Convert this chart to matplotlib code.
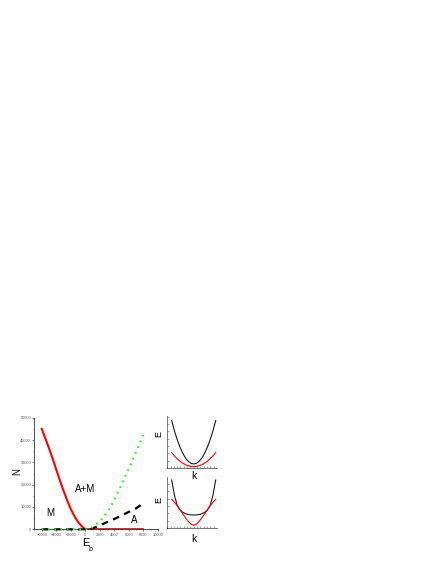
import matplotlib
matplotlib.use("Agg")
import matplotlib.pyplot as plt
from matplotlib.ticker import MultipleLocator, NullFormatter

plt.rcParams['font.family'] = ['Liberation Sans', 'DejaVu Sans']

# main panel: N versus E_b
e_m = [-6000, -5500, -5000, -4500, -4000, -3500, -3000, -2500, -2000, -1500, -1000, -500, 0, 8000]
n_m = [45000, 40700, 36300, 31700, 26800, 21900, 17300, 13000, 9100, 5900, 3300, 1400, 0, 0]

e_a = [-6000, 700, 1500, 2000, 3000, 4000, 5000, 6000, 7000, 8000]
n_a = [0, 0, 1100, 1800, 3200, 4600, 6200, 7800, 9400, 11600]

e_am = [-6000, 500, 800, 1200, 1600, 2000, 2500, 3000, 3500, 4000, 4500,
        5000, 5500, 6000, 6500, 7000, 7500, 8000]
n_am = [0, 0, 500, 1400, 2500, 3600, 5500, 7700, 10000, 13200, 16600,
        20100, 23700, 27200, 30800, 34600, 38400, 42300]

# insets: dispersion E(k)
k_vals = [-1, -0.875, -0.75, -0.625, -0.5, -0.375, -0.25, -0.125, 0,
          0.125, 0.25, 0.375, 0.5, 0.625, 0.75, 0.875, 1]
top_black = [47.7, 37.5, 28.7, 21.3, 15.2, 10.4, 7.0, 5.0, 4.3,
             5.0, 7.0, 10.4, 15.2, 21.3, 28.7, 37.5, 47.7]
top_red = [15.7, 12.4, 9.6, 7.1, 5.2, 3.6, 2.6, 1.9, 1.7,
           1.9, 2.6, 3.6, 5.2, 7.1, 9.6, 12.4, 15.7]
bot_black = [48.3, 33.0, 23.0, 18.4, 16.0, 14.6, 13.8, 13.4, 13.3,
             13.4, 13.8, 14.6, 16.0, 18.4, 23.0, 33.0, 48.3]
bot_red = [29.0, 26.0, 22.6, 18.6, 14.5, 10.6, 7.0, 4.2, 3.0,
           4.2, 7.0, 10.6, 14.5, 18.6, 22.6, 26.0, 29.0]

fig = plt.figure(figsize=(4.36, 5.64), dpi=100)

ax = fig.add_axes([0.0791, 0.0615, 0.2828, 0.1979])
ax.plot(e_m[:-1], n_m[:-1], color='red', lw=1.5, zorder=3, clip_on=False)
ax.plot(e_m[-2:], n_m[-2:], color='#a01818', lw=1.2, zorder=3, clip_on=False)
ax.plot(e_a, n_a, color='black', lw=1.6, dashes=(3, 2.5), zorder=4, clip_on=False)
ax.plot(e_am, n_am, color='#22ee22', lw=1.5, dashes=(0.8, 2.2), zorder=5, clip_on=False)

ax.set_xlim(-7000, 10000)
ax.set_ylim(0, 50000)
ax.xaxis.set_minor_locator(MultipleLocator(1000))
ax.yaxis.set_major_locator(MultipleLocator(10000))
ax.yaxis.set_minor_locator(MultipleLocator(5000))
ax.set_xticks(range(-6000, 10001, 2000))
ax.tick_params(which='major', length=1.5, width=0.5, pad=1, labelsize=2.8,
               labelcolor='#555555', color='#444444')
ax.tick_params(which='minor', length=1, width=0.4, color='#444444')
for s in ['top', 'right']:
    ax.spines[s].set_visible(False)
for s in ['left', 'bottom']:
    ax.spines[s].set_linewidth(0.6)
    ax.spines[s].set_color('#333333')
ax.patch.set_alpha(0)

ax.text(-4870, 7200, 'M', fontsize=7, ha='center', va='center')
ax.text(0, 17900, 'A+M', fontsize=7, ha='center', va='center')
ax.text(6800, 4300, 'A', fontsize=7, ha='center', va='center')

fig.text(0.0401, 0.1636, 'N', fontsize=7, rotation=90, ha='center', va='center')
fig.text(0.197, 0.0372, 'E', fontsize=8, ha='center', va='center')
fig.text(0.2075, 0.0265, 'b', fontsize=5, ha='center', va='center')

# insets
inset_pos = [[0.3823, 0.1697, 0.1147, 0.0927], [0.3823, 0.0633, 0.1147, 0.0915]]
inset_data = [(top_black, top_red, 52.3), (bot_black, bot_red, 51.6)]
for pos, (blk, rd, ytop) in zip(inset_pos, inset_data):
    ins = fig.add_axes(pos)
    ins.plot(k_vals, blk, color='#1a1a1a', lw=0.8)
    ins.plot(k_vals, rd, color='red', lw=0.8)
    ins.set_xlim(-1.227, 1.045)
    ins.set_ylim(0, ytop)
    ins.xaxis.set_major_locator(MultipleLocator(0.15))
    ins.yaxis.set_major_locator(MultipleLocator(7.4))
    ins.xaxis.set_major_formatter(NullFormatter())
    ins.yaxis.set_major_formatter(NullFormatter())
    ins.tick_params(direction='in', length=1.2, width=0.4, color='#555555')
    for s in ['top', 'right']:
        ins.spines[s].set_visible(False)
    for s in ['left', 'bottom']:
        ins.spines[s].set_linewidth(0.5)
        ins.spines[s].set_color('#444444')
    ins.patch.set_alpha(0)

fig.text(0.3631, 0.2305, 'E', fontsize=6.5, rotation=90, ha='center', va='center')
fig.text(0.3631, 0.1135, 'E', fontsize=6.5, rotation=90, ha='center', va='center')
fig.text(0.4438, 0.156, 'k', fontsize=7.5, ha='center', va='center')
fig.text(0.4456, 0.0438, 'k', fontsize=7.5, ha='center', va='center')

fig.savefig('out.png', dpi=100)
